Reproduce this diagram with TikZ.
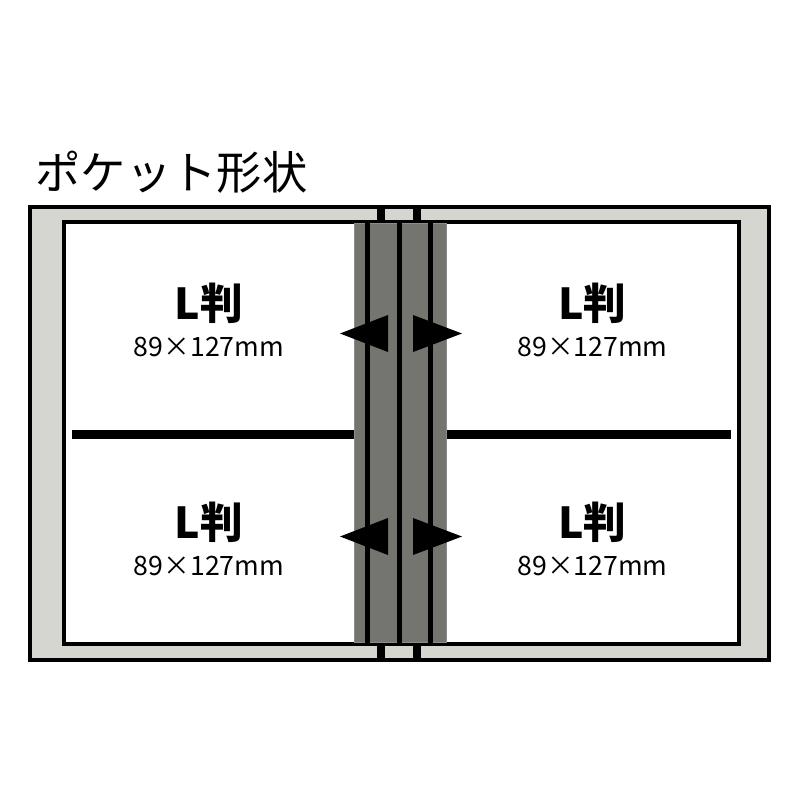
\documentclass[tikz,border=0pt]{standalone}
\usepackage{fontspec}
\newfontfamily\jpfont{Noto Sans CJK JP}
\usepackage{tikz}
\usetikzlibrary{calc}

\definecolor{pageGray}{RGB}{214,214,208}
\definecolor{spineGray}{RGB}{117,117,111}

\begin{document}
\begin{tikzpicture}[x=0.75pt, y=-0.75pt]
			\def\pageTop{207};
			\def\pageBot{660};
			\def\innerTop{221.5};
			\def\innerBot{644};
			\def\spineL{354};
			\def\spineR{446};

			\newcommand{\drawPocketLabel}[3]
			{
				\node [font=\jpfont\bfseries\fontsize{32}{32}\selectfont] (#1Size) at (#2,#3) {L判};
				\node [font=\jpfont\fontsize{20}{20}\selectfont] (#1Mm) at (#2,#3+44) {89×127mm}
			}

			\newcommand{\drawArrowPair}[1]
			{
				\fill (388,#1-18.5) -- (340,#1) -- (388,#1+18.5) -- cycle;
				\fill (413,#1-18.5) -- (462,#1) -- (413,#1+18.5) -- cycle
			}

			\useasboundingbox (0,0) rectangle (800,800);
			\fill [white] (0,0) rectangle (800,800);

			\node [font=\jpfont\fontsize{34}{34}\selectfont] (title) at (171.5,172) {ポケット形状};

			\begin{scope}[line width=3pt, fill=pageGray]
				\filldraw (30,\pageTop) rectangle (379,\pageBot);
				\filldraw (383,\pageTop) rectangle (415,\pageBot);
				\filldraw (418.5,\pageTop) rectangle (769,\pageBot);
				\filldraw [fill=white] (64,\innerTop) rectangle (739,\innerBot);
			\end{scope}

			\begin{scope}[line width=6.75pt]
				\draw (72,434.5) -- (\spineL,434.5);
				\draw (\spineR,434.5) -- (731,434.5);
			\end{scope}

			\begin{scope}
				\fill [spineGray] (\spineL,\innerTop+1.5) rectangle (\spineR,\innerBot-1.5);
				\draw [line width=0.5pt, black!45] (\spineL,\innerTop+1.5) rectangle (\spineR,\innerBot-1.5);
				\foreach \x in {367.5, 399.5, 430}
					\draw [line width=3.75pt] (\x,\innerTop) -- (\x,\innerBot);
			\end{scope}

			\drawArrowPair{333.5};
			\drawArrowPair{536.5};

			\drawPocketLabel{topLeft}{209}{303};
			\drawPocketLabel{topRight}{592.5}{303};
			\drawPocketLabel{bottomLeft}{209}{522};
			\drawPocketLabel{bottomRight}{592.5}{522};
		\end{tikzpicture}
\end{document}
